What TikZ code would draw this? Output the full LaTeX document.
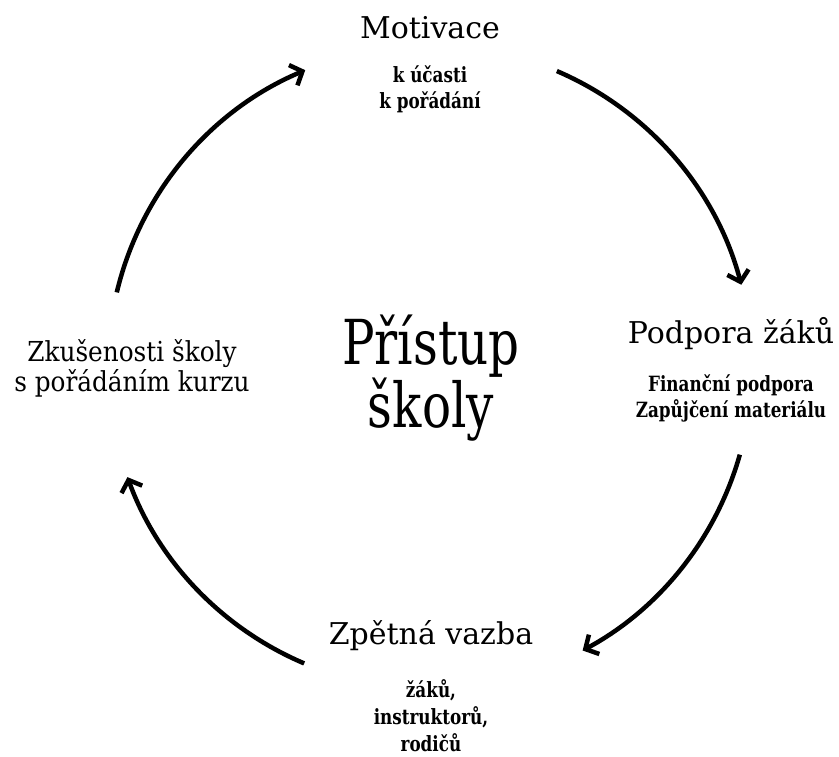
\documentclass[tikz,border=0pt]{standalone}
\usepackage{fontspec}
\setmainfont{DejaVu Serif}
\newfontfamily\bigfont{DejaVu Serif}[FakeStretch=0.78]
\newfontfamily\midfont{DejaVu Serif}[FakeStretch=0.9]
\newfontfamily\subfont{DejaVu Serif}[FakeStretch=0.8]
\usetikzlibrary{arrows.meta,calc}
\begin{document}
\begin{tikzpicture}[x=1pt,y=1pt,
  head/.style={font=\fontsize{30}{36}\selectfont, anchor=base, inner sep=0pt},
  sub/.style={font=\subfont\bfseries\fontsize{21}{26}\selectfont, anchor=base, inner sep=0pt, align=center},
  cyc/.style={line width=4.5pt, -{Straight Barb[length=10pt,width=22pt]}}]
\useasboundingbox (0,0) rectangle (839,756);
% centre of cycle
\coordinate (c) at (430,389);
\node[head] (mot) at (430,717) {Motivace};
\node[sub] (motsub) at (430,647) {k účasti\\k pořádání};
\node[head] (pod) at (731,412) {Podpora žáků};
\node[sub] (podsub) at (731,338) {Finanční podpora\\Zapůjčení materiálu};
\node[head, align=center, font=\midfont\fontsize{27.5}{30}\selectfont] (zk) at (132,364) {Zkušenosti školy\\s pořádáním kurzu};
\node[head] (zp) at (431,111) {Zpětná vazba};
\node[sub, font=\subfont\bfseries\fontsize{21}{27}\selectfont] (zpsub) at (431,4) {žáků,\\instruktorů,\\rodičů};
\node[anchor=base, inner sep=0pt, align=center, font=\bigfont\fontsize{62}{60}\selectfont] (pr) at (431,328) {Přístup\\školy};
% arcs
\coordinate (a1) at ($(c)+(66.8:322)$);
\coordinate (a2) at ($(c)+(-15.8:322)$);
\coordinate (a3) at ($(c)+(-113:322)$);
\coordinate (a4) at ($(c)+(166.6:322)$);
\draw[cyc] (a1) arc[start angle=66.8, end angle=14.8, radius=322];
\draw[cyc] (a2) arc[start angle=-15.8, end angle=-61.7, radius=322];
\draw[cyc] (a3) arc[start angle=-113, end angle=-160, radius=322];
\draw[cyc] (a4) arc[start angle=166.6, end angle=112.8, radius=322];
\end{tikzpicture}
\end{document}
